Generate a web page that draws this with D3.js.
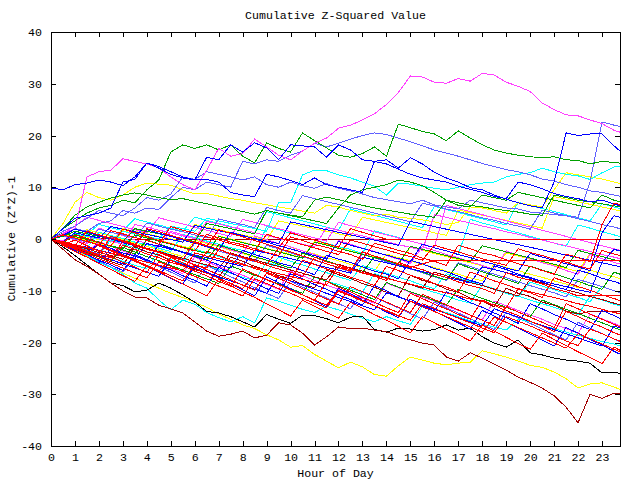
<!DOCTYPE html>
<html>
<head>
<meta charset="utf-8">
<script src="https://cdn.jsdelivr.net/npm/d3@7"></script>
<style>
  body { margin: 0; background: #fff; }
  text { font-family: 'Liberation Mono', 'DejaVu Sans Mono', monospace; font-size: 11.6px; fill: #000; }
</style>
</head>
<body>
<div id="chart"></div>
<script>
// half-hour steps across the day
const hours = [0, 0.5, 1, 1.5, 2, 2.5, 3, 3.5, 4, 4.5, 5, 5.5, 6, 6.5, 7, 7.5, 8, 8.5, 9, 9.5, 10, 10.5, 11, 11.5,
  12, 12.5, 13, 13.5, 14, 14.5, 15, 15.5, 16, 16.5, 17, 17.5, 18, 18.5, 19, 19.5, 20, 20.5, 21, 21.5, 22, 22.5, 23, 23.5, 24]
const hourTicks = [0, 1, 2, 3, 4, 5, 6, 7, 8, 9, 10, 11, 12, 13, 14, 15, 16, 17, 18, 19, 20, 21, 22, 23]
const valueTicks = [-40, -30, -20, -10, 0, 10, 20, 30, 40]

// outliers
const magentaTop = [0, 1, 2, 12, 13, 13.3, 15.5, 15, 14.5, 13.7, 12, 10.5,
  9.5, 13.3, 17.5, 16, 16.5, 19.3, 17.8, 16.2, 15.3, 17, 18.5, 19.5,
  21.4, 22, 23, 24.2, 26, 28.3, 31.5, 31.3, 30.3, 30.1, 31, 30.5,
  32, 31.7, 30.3, 29.5, 28.5, 26.3, 25, 24, 23.8, 23, 22.3, 21, 20.3]
const greenTop = [0, 2, 3.5, 5, 6, 6.5, 7.5, 7, 9.5, 11.4, 16.8, 18.2,
  17.5, 18.2, 17.2, 18.2, 16, 14.7, 18.6, 17.5, 16.8, 20.5, 19, 17.6,
  16.2, 15.8, 16.5, 17.8, 16, 22.2, 21.5, 20.8, 20.3, 19, 20.9, 19.5,
  18.2, 17.2, 16.6, 16.2, 15.9, 15.7, 15.9, 15.3, 15.2, 14.5, 15, 14.8, 14.5]
const blueHigh = [9.9, 9.5, 10.5, 10.8, 11.4, 11, 10.3, 12, 14.7, 14, 13, 12,
  11.4, 15.8, 15.3, 18.2, 16.8, 18.6, 17.6, 15.3, 18.2, 18, 17.8, 15.8,
  18.2, 17.2, 15.3, 15, 15.3, 13.7, 15.7, 14.5, 12.9, 11.8, 11, 9.9,
  9.5, 8.5, 7.7, 7, 6.4, 6, 11, 20.5, 20, 20.3, 20.3, 18, 16]
const blueUpper = [0, 2, 4, 4.5, 5, 6, 11, 11.5, 14.7, 13.7, 12.5, 11.8,
  11.4, 11.5, 11, 9, 8.5, 8.2, 12.5, 12, 11.3, 10.5, 11.8, 10.5,
  10, 9.5, 9, 15, 14.5, 13.5, 12.5, 11.8, 11.4, 11, 10.2, 9.6,
  9, 8.2, 7.8, 11, 10.5, 9.7, 8.8, 8.2, 7.8, 7.2, 7.5, 6.8, 6]
const periJump = [0, 1.5, 2.5, 4, 5.5, 5, 4.5, 6, 8, 7.5, 8.7, 12,
  11.5, 13, 12.5, 12, 11.4, 12, 10.5, 10, 11, 10.3, 9.8, 10.7,
  9.8, 9.3, 8.7, 8, 7.6, 7.2, 6.8, 7.5, 6.6, 6.2, 5.8, 7.5,
  7, 6.5, 6, 5.8, 5.2, 5, 4.7, 4.5, 4.2, 11, 22.6, 22, 21.5]
const periHigh = [0, 1, 2, 1.5, 3, 3.5, 5.5, 5, 6, 5.7, 8, 10,
  9.5, 11, 10.5, 10, 15, 14.5, 15.3, 15, 16.2, 17, 18.5, 17.8,
  18.5, 19.3, 20, 20.5, 20.2, 19.5, 18.8, 18, 17.2, 16.6, 16, 15.3,
  14.6, 14, 13.4, 13, 12.4, 11.6, 11.2, 10.5, 10, 9.3, 9, 8.5, 8]
const cyanUpper = [0, -0.5, 1, 0.5, 0, -0.5, 1.5, 1, 0.5, 0, 2.5, 2,
  1.5, 4, 3.5, 3, 2.5, 2, 1.5, 7, 7, 12.4, 13.3, 13.2,
  12.4, 11.8, 11, 10.2, 8.5, 10.8, 10.6, 10.2, 9.8, 9.5, 10, 10.5,
  10.8, 11, 12, 12.5, 12.8, 13.7, 13, 12.5, 12.2, 11.5, 12.8, 13.9, 14.3]
const yellowUpper = [0, 3, 7.1, 9, 8, 7.5, 8.5, 10, 10.8, 10.6, 10.4, 9.5,
  8.7, 8.8, 8.3, 7.8, 7.5, 7, 6.6, 6.2, 5.8, 5.4, 5, 6.5,
  6.2, 5.5, 5, 4.5, 4.8, 4.2, 4, 3.7, 3.3, 2.8, 3.2, 6.2,
  6, 5.5, 5, 7, 6.6, 6.2, 9.5, 12.8, 12.4, 12, 11.6, 11, 10.5]
const greenUpper = [0, 2, 4.6, 6.2, 7.1, 7.9, 8.5, 8.9, 8.5, 8, 7.6, 7.8,
  7.3, 6.8, 6.3, 5.8, 5.3, 4.8, 5.5, 5, 4.6, 4.3, 7.5, 8.1,
  7.6, 7, 6.5, 6, 5.6, 5.2, 4.8, 4.5, 4.2, 7.5, 7, 6.5,
  6.2, 5.8, 5.5, 5.2, 4.8, 4.6, 8.5, 8, 7.5, 7.2, 6.8, 6.4, 6]
const greenMid = [0, 0.5, 1.5, 1, 0.5, 0, -0.5, 2, 1.5, 1, 0.5, 0,
  -0.5, 3, 2.5, 2, 1.5, 1, 5.5, 5, 4.5, 4, 3.5, 3,
  6, 8.5, 9.5, 10, 10.5, 11.4, 11, 10.3, 9, 7.5, 6.5, 6.2,
  8.5, 8, 7.5, 9, 8.5, 8, 7.5, 7, 6.5, 6, 8.5, 7.5, 6.8]
const darkredLow = [0, -2, -4, -5.3, -6.8, -8.5, -10, -11.2, -11.4, -12.8, -13.5, -14.3,
  -16, -17.8, -18.8, -18.4, -17.8, -19.1, -18.6, -16.2, -16.6, -18.2, -20.5, -18.9,
  -17, -17.3, -17.2, -17.6, -17.9, -18.8, -19.5, -20.1, -20.5, -22.8, -23.6, -22,
  -23, -24.2, -25.3, -26.7, -27.7, -28.8, -30.3, -32.5, -35.5, -30, -30.8, -29.8, -30]
const blackLow = [0, -1.5, -3.2, -5, -6.8, -8.5, -9, -10.2, -9.9, -8.5, -9.5, -10.8,
  -12.2, -14, -14.3, -15, -16, -17, -14.6, -15.5, -16.3, -14.7, -14.8, -15.4,
  -16.2, -15.1, -14.9, -17.5, -18, -17.2, -17.4, -17.8, -17.5, -16.6, -17.6, -17.2,
  -18.9, -20.1, -20.9, -19.5, -22, -22.4, -23, -23.4, -23.6, -24, -25.9, -25.7, -26.3]
const yellowLow = [0, -1, -2.2, -3.3, -4.5, -5.5, -6.6, -7.6, -8.5, -9.5, -10.5, -11.3,
  -12.2, -13.2, -14.5, -15.5, -16.6, -17.3, -18.5, -19.5, -20.9, -20.6, -22.3, -23.6,
  -24.9, -23.8, -24.7, -26.2, -26.5, -24.5, -22.8, -23.4, -24, -24.3, -24, -23.8,
  -21.6, -22.2, -22.8, -23.6, -24.4, -24.8, -25.7, -27, -28.8, -28, -27.8, -28.6, -29.5]
const cyanLow = [0, -1, -2, -3.2, -4.5, -5.5, -6.8, -8.5, -9.5, -11.8, -13.7, -11.8,
  -12.6, -14.2, -15.2, -16, -15, -16.2, -11.4, -12, -12.8, -13.6, -14.2, -13,
  -13.7, -14.5, -15.3, -16, -15, -15.8, -16.5, -13, -13.6, -14.2, -15, -15.8,
  -16.5, -17, -17.6, -15.5, -16, -16.8, -17.3, -18, -18.6, -19.2, -19.8, -20.3, -21]

// series that go flat
const darkredFlat = [0, -0.4, 0.3, -0.3, 0.2, 0, 0, 0, 0, 0, 0, 0,
  0, 0, 0, 0, 0, 0, 0, 0, 0, 0, 0, 0,
  0, 0, 0, 0, 0, 0, 0, 0, 0, 0, 0, 0,
  0, 0, 0, 0, 0, 0, 0, 0, 0, 0, 0, 0, 0]
const redFlatZero = [0, -0.6, -1.3, 1.5, 0.8, 0.2, -0.5, -1.2, 2, 1.4, 0.7, 0,
  -0.7, -1.4, 1.8, 1.1, 0.4, -0.3, -1, -1.7, 1.2, 0.5, -0.2, -0.9,
  -1.6, 2, 1.3, 0.6, 0, 0, 0, 0, 0, 0, 0, 0,
  0, 0, 0, 0, 0, 0, 0, 0, 0, 0, 0, 0, 0]
const redFlatFour = [0, -0.8, -1.6, -2.4, -3.1, 0.5, -0.3, -1, -1.8, -2.5, -3.3, -4,
  -0.5, -1.3, -2, -2.8, -3.6, -4.3, -5, -1.8, -2.5, -3.3, -4, -4.8,
  -5.5, -6.2, -2.5, -3.3, -4, -4.8, -5.5, -4.8, -4.2, -4.2, -4.2, -4.2,
  -4.2, -4.2, -4.2, -4.2, -4.2, -4.2, -4.2, -4.2, -4.2, -4.2, -4.2, -4.2, -4.2]
const redFlatEleven = [0, -0.7, -1.4, -2.3, -3, -3.6, -0.5, -1.3, -2, -2.6, -3.5, -4.1,
  -5, -5.6, -2, -2.9, -3.5, -4.2, -5.1, -5.8, -6.4, -7.3, -3.5, -4.4,
  -5, -5.7, -6.6, -7.2, -8, -4.5, -5.3, -5.9, -6.8, -7.4, -8.3, -9,
  -9.6, -10.5, -6.5, -7.4, -8, -8.7, -9.6, -10.2, -11, -11, -11, -11, -11]
const darkredFlat14 = [0, -0.9, -1.7, -2.7, -3.4, -4.4, -5.1, -1.5, -2.5, -3.1, -4.2, -4.9,
  -5.9, -6.6, -7.6, -3.5, -4.3, -5.3, -6, -7.1, -7.7, -8.8, -9.4, -6,
  -6.9, -7.6, -8.6, -9.3, -10.3, -11, -7, -8, -8.6, -9.7, -10.3, -11.4,
  -12, -13.1, -9.5, -10.5, -11.1, -12.2, -12.8, -13.9, -14.5, -14, -14, -14, -14]

// the dense middle band
const red1 = [0, -0.6, 0.8, 0.1, -0.7, -1.3, 1.9, 1.2, 0.5, -0.3, -0.9, -1.7,
  -2.3, 0.9, 0.2, -0.6, -1.1, -1.9, -2.6, -3.2, 0.4, -0.3, -1.1, -1.6,
  -2.4, -3, -3.9, -0.8, -1.5, -2.2, -2.8, -3.7, -4.3, -5.1, -1.2, -1.9,
  -2.7, -3.2, -4, -4.8, -5.3, -6.1, -6.8, -2.9, -3.6, -4.4, 2.8, 6.9, 6.5]
const blue2 = [0, -0.9, -1.6, -2.5, -1, -1.8, -2.7, -3.3, -4.2, -1.1, -1.8, -2.6,
  -3.4, -4.1, -5, -5.6, -2.2, -3, -3.7, -4.6, -5.2, -6.1, -6.9, -3.1,
  -3.9, -4.5, -5.4, -6.2, -6.8, -7.7, -4.1, -4.8, -5.7, -6.3, -7.2, -8,
  -8.7, -5.2, -5.9, -6.8, -7.4, -8.3, -9.1, -9.8, -6, -6.7, -7.6, -8.2, -9]
const magenta3 = [0, 0.6, -0.2, -0.9, 2.1, 1.3, 0.7, -0.2, -0.8, -1.6, 1.5, 0.8,
  0.1, -0.7, -1.3, -2.1, -2.8, 0.6, -0.1, -0.9, -1.5, -2.3, -3, -3.8,
  -0.3, -1, -1.8, -2.4, -3.2, -3.9, -4.7, -1.5, -2.2, -3, -3.6, -4.4,
  -5.1, -5.9, -2.3, -3.1, -3.8, -4.6, -5.2, -6.1, -6.8, -3, -3.8, -4.5, -5.2]
const cyan4 = [0, -0.5, -1.2, -1.7, 1.3, 0.7, 0.1, -0.6, -1.1, -1.8, -2.4, 0.9,
  0.3, -0.4, -1, -1.7, -2.2, -2.9, 2.4, 1.8, 1.1, 0.5, -0.2, -0.8,
  -1.5, -2, -2.8, 1.6, 0.9, 0.3, -0.4, -1, -1.7, -2.3, -3, 3.8,
  3.1, 2.5, 1.8, 1.2, 0.5, -0.1, -0.8, -1.4, 2.7, 2.1, 1.4, 0.8, 0.1]
const red5 = [0, -0.8, -1.7, -2.4, -3.3, -4.1, -1.2, -2, -2.9, -3.6, -4.5, -5.2,
  -6.1, -2.4, -3.2, -4.1, -4.8, -5.7, -6.4, -7.3, -8, -4.1, -4.9, -5.8,
  -6.5, -7.4, -8.1, -9, -5.3, -6.1, -7, -7.7, -8.6, -9.3, -10.2, -6.4,
  -7.2, -8.1, -8.8, -9.7, -10.4, -11.3, -7.5, -8.3, -9.2, -9.9, -10.8, -11.5, -12.3]
const blue6 = [0, -1, -2.1, -3, -4.1, -5, -6.1, -3, -4, -5.1, -6, -7.1,
  -8, -9.1, -5.5, -6.5, -7.6, -8.5, -9.6, -10.5, -6.7, -7.7, -8.8, -9.7,
  -10.8, -11.7, -12.8, -9, -10, -11.1, -12, -13.1, -14, -10.2, -11.2, -12.3,
  -13.2, -14.3, -15.2, -16.3, -12.5, -13.5, -14.6, -15.5, -16.6, -17.5, -13.8, -14.8, -15.9]
const red7 = [0, -1.1, -0.2, -1.3, -2.4, -3.4, -4.5, -5.4, -6.5, -3, -4.1, -5.1,
  -6.2, -7.1, -8.2, -9.1, -5.8, -6.8, -7.9, -8.8, -9.9, -10.8, -11.9, -8.2,
  -9.3, -10.2, -11.3, -12.2, -13.3, -14.2, -10.5, -11.5, -12.6, -13.5, -14.6, -15.5,
  -11.8, -12.8, -13.9, -14.8, -15.9, -16.8, -17.9, -14, -15, -16.1, -17, -18.1, -19]
const magenta8 = [0, -0.4, 1.2, 0.7, 0.1, -0.4, -1, 2.8, 2.3, 1.7, 1.2, 0.6,
  0.1, 3.4, 2.9, 2.3, 1.8, 1.2, 0.7, 0.1, -0.4, -1, -1.5, 2.2,
  1.7, 1.1, 0.6, 0, -0.5, -1.1, -1.6, -2.2, 4.7, 4.2, 3.6, 3.1,
  2.5, 2, 1.4, 0.9, 0.3, -0.2, -0.8, -1.3, -1.9, -2.4, -3, -3.5, -4.1]
const magenta9 = [0, -0.9, -1.7, -2.7, -0.5, -1.4, -2.3, -3.2, -4, -5, -5.8, -6.7,
  -3.5, -4.4, -5.3, -6.2, -7, -8, -8.8, -9.7, -6.2, -7.1, -8, -8.9,
  -9.7, -10.7, -11.5, -12.4, -8.5, -9.4, -10.3, -11.2, -12, -13, -13.8, -14.7,
  -15.6, -12, -12.9, -13.8, -14.7, -15.5, -16.5, -17.3, -18.2, -14.5, -15.4, -16.3, -17.2]
const cyan10 = [0, -0.7, -1.5, -2.1, -2.9, -3.6, -4.3, -5.1, -5.7, -2.3, -3, -3.8,
  -4.4, -5.2, -5.9, -6.6, -7.4, -8, -4.5, -5.2, -6, -6.6, -7.4, -8.1,
  -8.8, -9.6, -10.2, -6.7, -7.4, -8.2, -8.8, -9.6, -10.3, -11, -11.8, -12.4,
  -8.9, -9.6, -10.4, -11, -11.8, -12.5, -13.2, -14, -14.6, -11.1, -11.8, -12.6, -13.2]
const yellow11 = [0, -0.6, -1.3, 1.8, 1.2, 0.5, -0.1, -0.8, -1.4, -2.1, -2.7, -3.4,
  -0.2, -0.9, -1.5, -2.2, -2.8, -3.5, -4.1, -4.8, -1.6, -2.3, -2.9, -3.6,
  -4.2, -4.9, -5.5, -6.2, -2.9, -3.6, -4.2, -4.9, -5.5, -6.2, -6.8, -7.5,
  -8.1, -4.8, -5.5, -6.1, -6.8, -7.4, -8.1, -8.7, -9.4, -6, -6.7, -7.3, -8]
const green12 = [0, -0.8, 0.9, 0.1, -0.6, -1.4, -2.1, -2.9, -0.2, -1, -1.7, -2.5,
  -3.2, -4, -1.1, -1.9, -2.6, -3.4, -4.1, -4.9, -5.6, -2.7, -3.5, -4.2,
  -5, -5.7, -6.5, -3.4, -4.2, -4.9, -5.7, -6.4, -7.2, -7.9, -4.8, -5.6,
  -6.3, -7.1, -7.8, -8.6, -5.2, -6, -6.7, -7.5, -8.2, -9, -9.7, -6.4, -7.2]
const peri13 = [0, -0.7, -1.4, -2.2, -2.9, 0.4, -0.3, -1.1, -1.8, -2.5, -3.2, -4,
  -0.8, -1.5, -2.3, -3, -3.7, -4.4, -1.2, -1.9, -2.7, -3.4, -4.1, -4.8,
  -5.6, -6.3, -2.9, -3.6, -4.4, -5.1, -5.8, -6.5, -7.3, -8, -4.6, -5.3,
  -6.1, -6.8, -7.5, -8.3, -9, -9.7, -10.4, -11.2, -7.8, -8.5, -9.2, -10, -10.7]
const red14 = [0, -0.9, -1.9, -2.8, -3.8, -4.7, -5.6, -6.6, -7.5, -4.4, -5.3, -6.3,
  -7.2, -8.2, -9.1, -10, -11, -7.7, -8.6, -9.6, -10.5, -11.5, -12.4, -13.3,
  -10.1, -11, -12, -12.9, -13.8, -14.8, -15.7, -12.5, -13.4, -14.4, -15.3, -16.2,
  -17.2, -18.1, -15, -15.9, -16.8, -17.8, -18.7, -19.7, -20.6, -17.4, -18.3, -19.3, -20.2]
const blue15 = [0, -0.5, -1.1, -1.6, -2.2, -2.7, -3.3, -3.8, -0.9, -1.4, -2, -2.5,
  -3.1, -3.6, -4.2, -4.7, -5.3, -2.2, -2.7, -3.3, -3.8, -4.4, -4.9, -5.5,
  -6, -6.6, -3.5, -4.1, -4.6, -5.2, -5.7, -6.3, -6.8, -7.4, -7.9, -8.5,
  -5.4, -5.9, -6.5, -7, -7.6, -8.1, -8.7, -9.2, -9.8, -10.3, -4.5, -2, -2.6]
const blue16 = [0, -1.2, -2.3, -3.5, -4.6, -1.8, -3, -4.1, -5.3, -6.4, -7.6, -8.7,
  -5.2, -6.4, -7.5, -8.7, -9.8, -11, -7.3, -8.5, -9.6, -10.8, -11.9, -13.1,
  -9.5, -10.6, -11.8, -12.9, -14.1, -15.2, -11.6, -12.8, -13.9, -15.1, -16.2, -17.4,
  -13.8, -14.9, -16.1, -17.2, -18.4, -19.5, -20.7, -17.1, -18.2, -19.4, -20.5, -21.7, -22.8]
const red17 = [0, 0.8, 0.2, -0.5, -1.1, 1.6, 1, 0.3, -0.3, -1, 2.4, 1.7,
  1.1, 0.4, -0.2, -0.9, -1.5, -2.2, 0.9, 0.2, -0.4, -1.1, -1.7, -2.4,
  -3, -0.2, -0.8, -1.5, -2.1, -2.8, -3.4, -4.1, -1.2, -1.9, -2.5, -3.2,
  -3.8, -4.5, -5.1, -1.9, -2.6, -3.2, -3.9, -4.5, -5.2, -5.8, -2.2, -2.9, -3.5]
const darkred18 = [0, -0.6, -1.3, -1.9, -2.6, -3.2, -3.9, -1.1, -1.8, -2.4, -3.1, -3.7,
  -4.4, -5, -5.7, -2.7, -3.4, -4, -4.7, -5.3, -6, -6.6, -7.3, -7.9,
  -4.9, -5.6, -6.2, -6.9, -7.5, -8.2, -8.8, -9.5, -6.4, -7.1, -7.7, -8.4,
  -9, -9.7, -10.3, -11, -7.8, -8.5, -9.1, -9.8, -10.4, -11.1, -11.7, -12.4, -13]
const red19 = [0, -1, -2, -0.3, -1.3, -2.3, -3.3, -4.3, -5.3, -6.3, -3.6, -4.6,
  -5.6, -6.6, -7.6, -8.6, -9.6, -6.8, -7.8, -8.8, -9.8, -10.8, -11.8, -12.8,
  -9.9, -10.9, -11.9, -12.9, -13.9, -14.9, -12, -13, -14, -15, -16, -17,
  -18, -15.1, -16.1, -17.1, -18.1, -19.1, -20.1, -21.1, -18.3, -19.3, -20.3, -21.3, -22.3]
const yellow20 = [0, 0.9, 0.3, -0.3, -0.9, -1.5, 1.6, 1, 0.4, -0.2, -0.8, -1.4,
  -2, -2.6, 0.6, 0, -0.6, -1.2, -1.8, -2.4, -3, -3.6, -0.5, -1.1,
  -1.7, -2.3, -2.9, -3.5, -4.1, -4.7, -1.6, -2.2, -2.8, -3.4, -4, -4.6,
  -5.2, -5.8, -2.7, -3.3, -3.9, -4.5, -5.1, -5.7, -6.3, -2.8, -3.4, -4, -4.6]
const green21 = [0, -0.9, -1.8, -2.6, -3.5, -4.4, -1.6, -2.5, -3.4, -4.2, -5.1, -6,
  -6.9, -7.7, -8.6, -5.2, -6.1, -7, -7.8, -8.7, -9.6, -10.5, -7.3, -8.2,
  -9.1, -9.9, -10.8, -11.7, -8.4, -9.3, -10.2, -11, -11.9, -12.8, -9.7, -10.6,
  -11.5, -12.3, -13.2, -14.1, -15, -11.8, -12.7, -13.6, -14.4, -15.3, -16.2, -17.1, -18]
const peri22 = [0, -1.1, -2.2, -3.2, -4.3, -5.4, -6.4, -3.2, -4.3, -5.3, -6.4, -7.5,
  -8.5, -5.1, -6.2, -7.3, -8.3, -9.4, -10.5, -11.5, -8.2, -9.3, -10.3, -11.4,
  -12.5, -13.5, -10.1, -11.2, -12.3, -13.3, -14.4, -15.5, -12.2, -13.3, -14.3, -15.4,
  -16.5, -17.5, -14.2, -15.3, -16.3, -17.4, -18.5, -19.5, -16.1, -17.2, -18.3, -19.3, -20.4]
const blue23 = [0, 0.7, 1.9, 1.3, 0.6, 0, -0.7, -1.3, 1.8, 1.1, 0.5, -0.2,
  -0.8, -1.5, -2.1, 1.3, 0.7, 0, -0.6, -1.3, -1.9, -2.6, -3.2, -3.9,
  -0.5, -1.2, -1.8, -2.5, -3.1, -3.8, -4.4, -1, -1.7, -2.3, -3, -3.6,
  -4.3, -4.9, -5.6, -6.2, -2.8, -3.5, -4.1, -4.8, -5.4, -6.1, 1.2, 4.5, 3.9]
const red24 = [0, -1.2, -2.4, -3.5, -4.7, -5.9, -7.1, -8.2, -5.1, -6.3, -7.5, -8.7,
  -9.8, -11, -7.8, -9, -10.2, -11.3, -12.5, -13.7, -14.9, -11.8, -13, -14.2,
  -15.3, -12.2, -13.4, -14.6, -15.7, -16.9, -18.1, -15, -16.2, -17.4, -18.5, -19.7,
  -16.6, -17.8, -19, -20.2, -21.3, -18.2, -19.4, -20.6, -21.8, -22.9, -24.1, -20.9, -22.1]
const cyan25 = [0, 0.5, 1.5, 0.9, 2.8, 2.2, 1.6, 3.9, 3.3, 2.7, 2.1, 1.5,
  4.2, 3.6, 3, 2.4, 1.8, 1.2, 5.3, 4.7, 4.1, 3.5, 2.9, 2.3,
  1.7, 5.8, 5.2, 4.6, 4, 3.4, 2.8, 2.2, 6.3, 5.7, 5.1, 4.5,
  3.9, 3.3, 2.7, 7.1, 6.5, 5.9, 5.3, 4.7, 4.1, 3.5, 6.8, 6.2, 5.6]
const magenta26 = [0, 1.1, 2.5, 4.2, 3.6, 3, 2.4, 1.8, 1.2, 4.1, 3.5, 2.9,
  2.3, 1.7, 1.1, 0.5, 3.8, 3.2, 2.6, 2, 1.4, 0.8, 0.2, -0.4,
  3.2, 2.6, 2, 1.4, 0.8, 0.2, -0.4, -1, -1.6, 6.5, 5.9, 5.3,
  4.7, 4.1, 3.5, 2.9, 2.3, 1.7, 1.1, 0.5, -0.1, -0.7, -1.3, -1.9, -2.5]
const red27 = [0, -0.5, -1.1, -1.7, -2.2, -2.8, -3.4, -3.9, -4.5, -5.1, -5.6, -6.2,
  -2.7, -3.3, -3.8, -4.4, -5, -5.5, -6.1, -6.7, -7.2, -7.8, -8.4, -8.9,
  -5.3, -5.9, -6.5, -7, -7.6, -8.2, -8.7, -9.3, -9.9, -10.4, -11, -11.6,
  -12.1, -12.7, -13.3, -9.6, -10.2, -10.8, -11.3, -11.9, -12.5, -13, -13.6, -14.2, -14.7]
const blue28 = [0, -0.8, -1.6, -2.4, -3.2, -4, -4.8, -5.6, -6.4, -7.2, -4.1, -4.9,
  -5.7, -6.5, -7.3, -8.1, -8.9, -9.7, -10.5, -7.3, -8.1, -8.9, -9.7, -10.5,
  -11.3, -12.1, -12.9, -13.7, -10.4, -11.2, -12, -12.8, -13.6, -14.4, -15.2, -16,
  -16.8, -13.5, -14.3, -15.1, -15.9, -16.7, -17.5, -18.3, -19.1, -19.9, -20.7, -16.8, -17.6]
const peri29 = [0, 0.6, 0, -0.6, 1.9, 1.3, 0.8, 0.2, 3.1, 2.5, 1.9, 1.4,
  0.8, 0.2, 3.9, 3.3, 2.8, 2.2, 6.1, 5.5, 5, 8.4, 7.8, 7.2,
  6.7, 6.1, 5.6, 5, 4.4, 3.9, 3.3, 6.9, 6.4, 5.8, 5.3, 4.7,
  4.1, 3.6, 3, 2.5, 1.9, 5.6, 5, 4.5, 3.9, 3.4, 2.8, 2.3, 1.7]
const yellow30 = [0, -0.4, 0.9, 0.4, -0.1, -0.6, 2, 1.5, 1, 0.5, 0, -0.5,
  2.8, 2.3, 1.8, 1.3, 0.8, 0.3, -0.2, 3.5, 3, 2.5, 2, 1.5,
  1, 0.5, 4.2, 3.7, 3.2, 2.7, 2.2, 1.7, 1.2, 0.7, 5.6, 5.1,
  4.6, 4.1, 3.6, 3.1, 2.6, 2.1, 8.2, 7.7, 7.2, 6.7, 6.2, 5.7, 5.2]
const cyan31 = [0, -0.8, -1.5, -2.3, -3, -0.2, -1, -1.7, -2.5, -3.2, -4, -4.7,
  -1.9, -2.7, -3.4, -4.2, -4.9, -5.7, -6.4, -3.5, -4.3, -5, -5.8, -6.5,
  -7.3, -8, -5.1, -5.9, -6.6, -7.4, -8.1, -8.9, -9.6, -6.7, -7.5, -8.2,
  -9, -9.7, -10.5, -11.2, -8.3, -9.1, -9.8, -10.6, -11.3, -12.1, -9.2, -10, -10.7]
const red32 = [0, -1, -2, -3, -1.1, -2.1, -3.1, -4.1, -5.1, -6.1, -7.1, -8.1,
  -4.9, -5.9, -6.9, -7.9, -8.9, -9.9, -6.6, -7.6, -8.6, -9.6, -10.6, -11.6,
  -12.6, -9.2, -10.2, -11.2, -12.2, -13.2, -14.2, -10.7, -11.7, -12.7, -13.7, -14.7,
  -15.7, -16.7, -13.1, -14.1, -15.1, -16.1, -17.1, -12.5, -13.5, -14.5, -15.5, -16.5, -17.5]
const blue33 = [0, -0.5, 1.2, 0.7, 0.2, 2.4, 1.9, 1.4, 0.9, 0.4, -0.1, -0.6,
  2.6, 2.1, 1.6, 1.1, 0.6, 0.1, -0.4, -0.9, 3.3, 2.8, 2.3, 1.8,
  1.3, 0.8, 0.3, -0.2, -0.7, -1.2, 3.4, 2.9, 2.4, 1.9, 1.4, 0.9,
  0.4, -0.1, -0.6, -1.1, -1.6, -2.1, -2.6, -3.1, -3.6, -4.1, -4.6, -5.1, -5.6]
const green34 = [0, 1.1, 0.5, -0.1, -0.7, -1.3, -1.9, 0.8, 0.2, -0.4, -1, -1.6,
  -2.2, -2.8, 0.5, -0.1, -0.7, -1.3, -1.9, -2.5, -3.1, -3.7, -0.6, -1.2,
  -1.8, -2.4, -3, -3.6, -4.2, -4.8, -1.4, -2, -2.6, -3.2, -3.8, -4.4,
  -1.3, -1.9, -2.5, -3.1, -3.7, -4.3, -4.9, -5.5, -2.2, -2.8, -3.4, -4, -4.6]

const RED = '#ff0000'
const GREEN = '#00a000'
const BLUE = '#0000ff'
const MAGENTA = '#ff40ff'
const CYAN = '#00ffff'
const DARKRED = '#a00000'
const YELLOW = '#ffff00'
const BLACK = '#000000'
const PERI = '#6060ff'

// drawing order, later ones on top
const series = [
  { values: darkredFlat, color: DARKRED },
  { values: cyan25, color: CYAN },
  { values: yellow30, color: YELLOW },
  { values: yellow20, color: YELLOW },
  { values: yellow11, color: YELLOW },
  { values: cyan4, color: CYAN },
  { values: cyan10, color: CYAN },
  { values: cyan31, color: CYAN },
  { values: yellowUpper, color: YELLOW },
  { values: cyanUpper, color: CYAN },
  { values: magenta26, color: MAGENTA },
  { values: magenta3, color: MAGENTA },
  { values: magenta8, color: MAGENTA },
  { values: magenta9, color: MAGENTA },
  { values: peri13, color: PERI },
  { values: peri22, color: PERI },
  { values: peri29, color: PERI },
  { values: periHigh, color: PERI },
  { values: periJump, color: PERI },
  { values: green12, color: GREEN },
  { values: green21, color: GREEN },
  { values: green34, color: GREEN },
  { values: greenMid, color: GREEN },
  { values: greenUpper, color: GREEN },
  { values: greenTop, color: GREEN },
  { values: magentaTop, color: MAGENTA },
  { values: yellowLow, color: YELLOW },
  { values: cyanLow, color: CYAN },
  { values: blackLow, color: BLACK },
  { values: darkredLow, color: DARKRED },
  { values: darkred18, color: DARKRED },
  { values: darkredFlat14, color: DARKRED },
  { values: blue2, color: BLUE },
  { values: blue6, color: BLUE },
  { values: blue15, color: BLUE },
  { values: blue16, color: BLUE },
  { values: blue23, color: BLUE },
  { values: blue28, color: BLUE },
  { values: blue33, color: BLUE },
  { values: blueUpper, color: BLUE },
  { values: blueHigh, color: BLUE },
  { values: red1, color: RED },
  { values: red5, color: RED },
  { values: red7, color: RED },
  { values: red14, color: RED },
  { values: red17, color: RED },
  { values: red19, color: RED },
  { values: red24, color: RED },
  { values: red27, color: RED },
  { values: red32, color: RED },
  { values: redFlatFour, color: RED },
  { values: redFlatEleven, color: RED },
  { values: redFlatZero, color: RED }
]

const width = 640
const height = 480
const plotLeft = 51
const plotRight = 620
const plotTop = 32
const plotBottom = 446

const svg = d3.select('#chart')
  .append('svg')
  .attr('width', width)
  .attr('height', height)
  .style('background', '#fff')

const x = d3.scaleLinear().domain([0, 23.75]).range([plotLeft, plotRight])
const y = d3.scaleLinear().domain([-40, 40]).range([plotBottom, plotTop])

svg.append('clipPath')
  .attr('id', 'plot-clip')
  .append('rect')
  .attr('x', plotLeft)
  .attr('y', plotTop)
  .attr('width', plotRight - plotLeft + 1)
  .attr('height', plotBottom - plotTop + 1)

const line = d3.line()
  .defined((d, i) => hours[i] !== undefined)
  .x((d, i) => x(hours[i]))
  .y(d => y(d))

// gnuplot draws aliased one pixel lines
svg.append('g')
  .attr('clip-path', 'url(#plot-clip)')
  .selectAll('path')
  .data(series)
  .enter()
  .append('path')
  .attr('d', d => line(d.values))
  .attr('fill', 'none')
  .attr('stroke', d => d.color)
  .attr('stroke-width', 1)
  .attr('shape-rendering', 'crispEdges')

// axes, ticks point inwards and are mirrored like gnuplot
const styleAxis = g => {
  g.select('.domain').remove()
  g.selectAll('.tick line').attr('stroke', '#000').attr('shape-rendering', 'crispEdges')
  g.selectAll('.tick text')
    .attr('fill', '#000')
    .style('font-family', "'Liberation Mono', monospace")
    .style('font-size', '11.6px')
}

svg.append('g')
  .attr('transform', `translate(0,${plotBottom})`)
  .call(d3.axisBottom(x).tickValues(hourTicks).tickFormat(d => String(d)).tickSize(-5).tickPadding(7))
  .call(styleAxis)

svg.append('g')
  .attr('transform', `translate(0,${plotTop})`)
  .call(d3.axisTop(x).tickValues(hourTicks).tickFormat('').tickSize(-5))
  .call(styleAxis)

svg.append('g')
  .attr('transform', `translate(${plotLeft},0)`)
  .call(d3.axisLeft(y).tickValues(valueTicks).tickFormat(d => String(d)).tickSize(-5).tickPadding(9))
  .call(styleAxis)

svg.append('g')
  .attr('transform', `translate(${plotRight},0)`)
  .call(d3.axisRight(y).tickValues(valueTicks).tickFormat('').tickSize(-5))
  .call(styleAxis)

svg.append('rect')
  .attr('x', plotLeft + 0.5)
  .attr('y', plotTop + 0.5)
  .attr('width', plotRight - plotLeft)
  .attr('height', plotBottom - plotTop)
  .attr('fill', 'none')
  .attr('stroke', '#000')
  .attr('stroke-width', 1)
  .attr('shape-rendering', 'crispEdges')

svg.append('text')
  .attr('x', (plotLeft + plotRight) / 2)
  .attr('y', 19)
  .attr('text-anchor', 'middle')
  .text('Cumulative Z-Squared Value')

svg.append('text')
  .attr('x', (plotLeft + plotRight) / 2)
  .attr('y', 477)
  .attr('text-anchor', 'middle')
  .text('Hour of Day')

svg.append('text')
  .attr('transform', `translate(15,${(plotTop + plotBottom) / 2}) rotate(-90)`)
  .attr('text-anchor', 'middle')
  .text('Cumulative (Z*Z)-1')
</script>
</body>
</html>
